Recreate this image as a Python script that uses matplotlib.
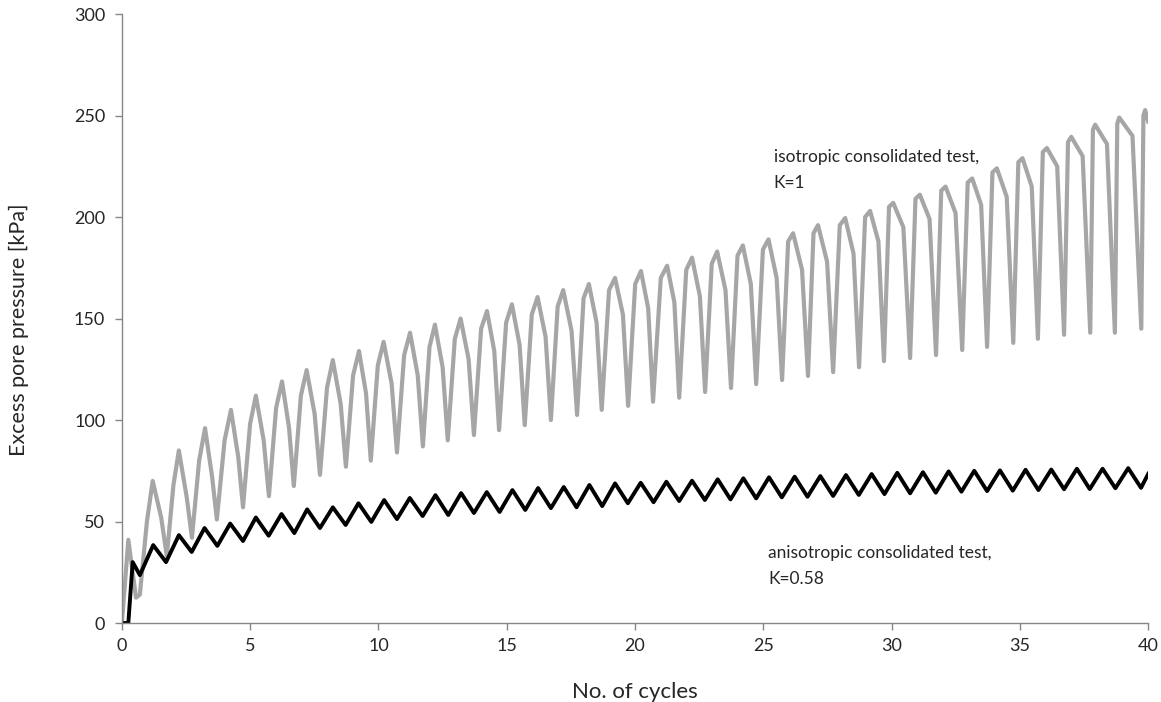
#!/usr/bin/env python3
"""
Excess pore pressure vs. number of cycles for isotropic and
anisotropic consolidated cyclic tests
"""

import numpy as np
import matplotlib
matplotlib.use('Agg')
import matplotlib.pyplot as plt

plt.rcParams['font.family'] = ['Lato', 'DejaVu Sans']

# --- isotropic consolidated test (K=1), read per cycle ---
iso_start_x = [0.0, 0.25, 0.55, 0.7]
iso_start_y = [0.0, 41.0, 12.5, 14.0]

iso_peak_x = [1.20, 2.22, 3.24, 4.25, 5.22, 6.24, 7.20, 8.22, 9.24, 10.20,
              11.23, 12.20, 13.20, 14.23, 15.20, 16.20, 17.20, 18.20, 19.22, 20.23,
              21.25, 22.22, 23.20, 24.20, 25.20, 26.16, 27.13, 28.19, 29.16, 30.06,
              31.10, 32.10, 33.14, 34.10, 35.10, 36.05, 37.00, 37.93, 38.87, 39.88]
iso_peak_y = [70, 85, 96, 105, 112, 119, 124.6, 129.5, 134, 138.5,
              143, 147, 150, 153.7, 157, 160.6, 164, 167, 170, 173.4,
              176, 180, 183, 186, 189, 192, 196, 199.5, 203, 207,
              211, 215, 219, 224, 229, 234, 239.5, 245.5, 249, 252.7]
iso_rise_y = [50, 68, 80, 90, 98, 106, 112, 116, 122, 127,
              132, 136, 140, 145, 148, 152, 156, 160, 164, 167,
              170, 174, 177, 181, 184, 188, 192, 196, 200, 205,
              209, 213, 217, 222, 227, 232, 237, 243, 246, 250]
iso_shoulder_y = [52, 62, 72, 82, 90, 96, 103, 108, 113, 118,
                  122, 126, 130, 134, 137, 141, 144, 148, 152, 155,
                  158, 161, 164, 167, 170, 174, 178, 182, 188, 195,
                  199, 202, 206, 210, 215, 225, 230, 236, 240]
iso_trough_x = [1.75, 2.73, 3.70, 4.72, 5.73, 6.70, 7.72, 8.73, 9.70, 10.72,
                11.73, 12.70, 13.72, 14.70, 15.70, 16.72, 17.74, 18.70, 19.73, 20.70,
                21.72, 22.73, 23.74, 24.72, 25.73, 26.74, 27.72, 28.73, 29.70, 30.72,
                31.73, 32.75, 33.72, 34.74, 35.70, 36.72, 37.74, 38.70, 39.73]
iso_trough_y = [33, 42, 51, 57, 62.5, 67.5, 73, 77, 80, 84,
                87, 90, 92.6, 95, 97.5, 100, 102.5, 105, 107, 109,
                111, 113.8, 115.8, 117.7, 119.7, 121.7, 123.6, 126, 129, 130.5,
                132, 134.5, 136, 138, 140, 142, 143, 143, 145]
iso_end = (40.0, 247.0)

# --- anisotropic consolidated test (K=0.58) ---
aniso_start_x = [0.0, 0.25, 0.42, 0.70]
aniso_start_y = [0.0, 0.0, 30.0, 23.6]
aniso_peak_y = [38.4, 43.3, 46.8, 49, 52, 53.7, 56, 57, 59, 60.6,
                61.6, 63, 64, 64.5, 65.5, 66.5, 67, 68, 68.8, 69.1,
                69.6, 70.1, 70.8, 71.3, 71.8, 72.1, 72.4, 72.9, 73.4, 74,
                74.3, 74.7, 75, 75.2, 75.5, 75.6, 76, 76, 76.3]
aniso_trough_y = [30, 35, 38, 40.4, 43, 44.3, 46.8, 48.3, 49.8, 51.2,
                  52.7, 53.2, 54.2, 54.7, 55.7, 56.6, 57, 57.6, 59, 59.5,
                  60.1, 60.6, 60.9, 61.4, 61.9, 62.2, 62.6, 63.1, 63.5, 63.9,
                  64.2, 64.7, 65, 65.2, 65.5, 65.9, 66, 66.4, 66.6]
aniso_end = (40.0, 73.5)


def build_iso():
    xs = list(iso_start_x)
    ys = list(iso_start_y)
    prev_tx = iso_start_x[-1]
    for i, (px, py) in enumerate(zip(iso_peak_x, iso_peak_y)):
        # rise sample between previous trough and peak
        xs.append(prev_tx + 0.55 * (px - prev_tx))
        ys.append(iso_rise_y[i])
        xs.append(px)
        ys.append(py)
        if i < len(iso_trough_x):
            tx = iso_trough_x[i]
            xs.append(px + 0.6 * (tx - px))
            ys.append(iso_shoulder_y[i])
            xs.append(tx)
            ys.append(iso_trough_y[i])
            prev_tx = tx
    xs.append(iso_end[0])
    ys.append(iso_end[1])
    return np.array(xs), np.array(ys)


def build_aniso():
    xs = list(aniso_start_x)
    ys = list(aniso_start_y)
    cycles = np.arange(1, len(aniso_peak_y) + 1)
    for c, p, t in zip(cycles, aniso_peak_y, aniso_trough_y):
        xs += [c + 0.22, c + 0.72]
        ys += [p, t]
    xs.append(aniso_end[0])
    ys.append(aniso_end[1])
    return np.array(xs), np.array(ys)


iso_x, iso_y = build_iso()
an_x, an_y = build_aniso()

fig = plt.figure(figsize=(11.61, 7.02), dpi=100)
ax = fig.add_axes([0.105, 0.1125, 0.884, 0.8675])

ax.plot(iso_x, iso_y, color='#a6a6a6', lw=3.0, solid_joinstyle='round')
ax.plot(an_x, an_y, color='black', lw=2.8, solid_joinstyle='round')

ax.set_xlim(0, 40)
ax.set_ylim(0, 300)
ax.set_xticks(np.arange(0, 41, 5))
ax.set_yticks(np.arange(0, 301, 50))

for s in ['top', 'right']:
    ax.spines[s].set_visible(False)
for s in ['left', 'bottom']:
    ax.spines[s].set_color('#868686')
    ax.spines[s].set_linewidth(1.0)
ax.tick_params(axis='both', colors='#868686', labelcolor='#262626',
               labelsize=13, length=5, width=1.0, direction='out')
ax.tick_params(axis='y', pad=7)
ax.tick_params(axis='x', pad=6)

ax.set_xlabel('No. of cycles', fontsize=16, color='#262626', va='center')
ax.xaxis.set_label_coords(0.5, -0.113)
ax.set_ylabel('Excess pore pressure [kPa]', fontsize=15.5, color='#262626', va='center')
ax.yaxis.set_label_coords(-0.1, 0.481)

ax.text(25.4, 233.5, 'isotropic consolidated test,\nK=1', fontsize=12.5,
        color='#262626', va='top', ha='left', linespacing=1.75)
ax.text(25.2, 38.5, 'anisotropic consolidated test,\nK=0.58', fontsize=12.5,
        color='#262626', va='top', ha='left', linespacing=1.75)

plt.savefig('out.png', dpi=100)
plt.close()
